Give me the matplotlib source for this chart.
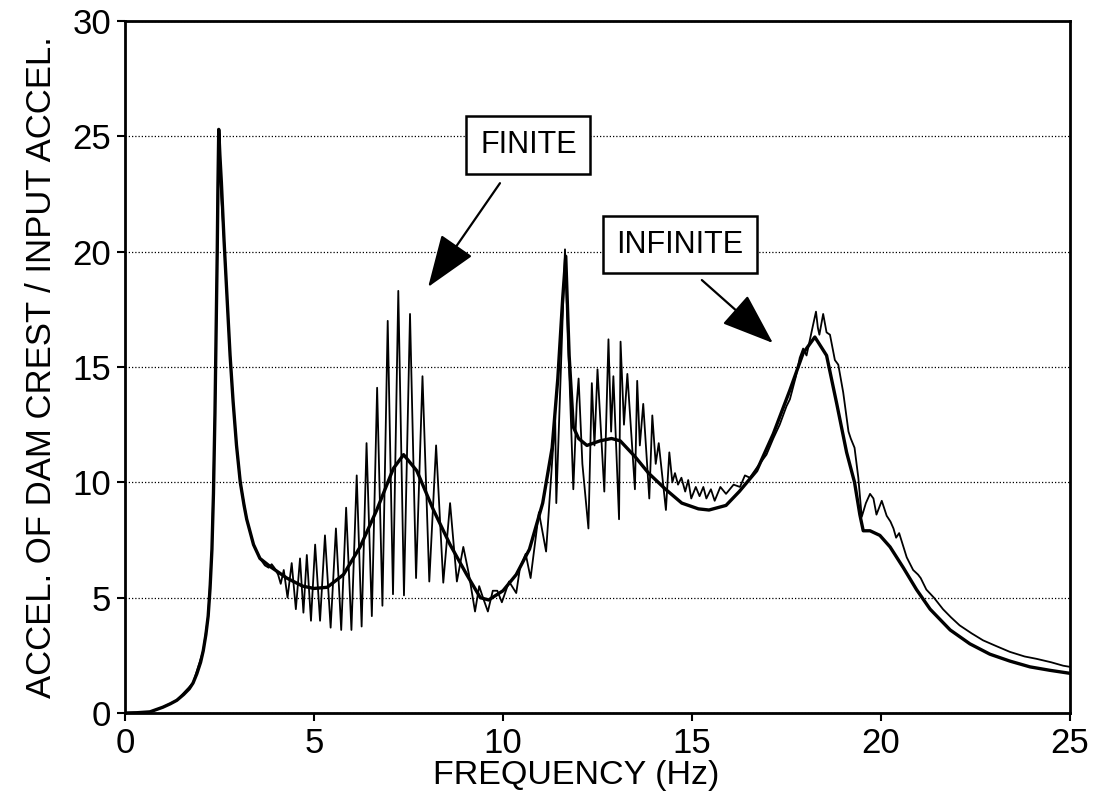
import matplotlib
matplotlib.use('Agg')
import matplotlib.pyplot as plt

plt.rcParams['font.family'] = ['Liberation Sans', 'DejaVu Sans']

# infinite reservoir response (smooth, heavy line)
inf_freq = [0, 0.3, 0.66, 1.0, 1.2, 1.37, 1.55, 1.7, 1.8, 1.9, 2.0, 2.07, 2.14, 2.2,
            2.25, 2.3, 2.34, 2.38, 2.41, 2.44, 2.46, 2.48, 2.51, 2.55, 2.62, 2.7,
            2.78, 2.86, 2.95, 3.05, 3.15, 3.22, 3.4, 3.57, 3.84, 4.28, 4.7, 5.0,
            5.35, 5.78, 6.22, 6.66, 7.1, 7.37, 7.72, 8.16, 8.6, 9.04, 9.4, 9.62,
            10.0, 10.35, 10.7, 11.05, 11.3, 11.45, 11.58, 11.66, 11.75, 11.86, 12.0,
            12.22, 12.57, 12.87, 13.1, 13.5, 13.85, 14.3, 14.73, 15.17, 15.45, 15.9,
            16.25, 16.71, 17.15, 17.59, 17.94, 18.25, 18.56, 18.83, 19.09, 19.3,
            19.44, 19.53, 19.71, 19.97, 20.24, 20.59, 20.94, 21.3, 21.83, 22.35,
            22.88, 23.41, 23.94, 24.47, 25.0]
inf_accel = [0, 0.01, 0.05, 0.25, 0.4, 0.55, 0.8, 1.05, 1.3, 1.7, 2.2, 2.7, 3.4, 4.2,
             5.4, 7.1, 9.5, 13, 16.5, 20, 23, 25.3, 24.2, 23, 20.5, 18,
             15.5, 13.5, 11.6, 10.0, 9.0, 8.4, 7.3, 6.7, 6.35, 5.85, 5.5, 5.4,
             5.45, 6.0, 7.2, 8.8, 10.6, 11.2, 10.5, 8.8, 7.3, 6.0, 5.0, 4.9,
             5.3, 6.0, 7.1, 9.1, 11.5, 14.5, 18.0, 19.8, 15.5, 12.4, 11.9,
             11.6, 11.8, 11.9, 11.8, 11.1, 10.4, 9.7, 9.1, 8.85, 8.8, 9.0,
             9.6, 10.5, 12.1, 14.0, 15.6, 16.3, 15.5, 13.4, 11.3, 10.0,
             8.6, 7.9, 7.9, 7.7, 7.2, 6.3, 5.35, 4.5, 3.6, 3.0,
             2.55, 2.25, 2.0, 1.85, 1.72]

# finite reservoir response (oscillating, light line)
fin_freq = [0, 0.66, 1.0, 1.37, 1.8, 2.07, 2.2, 2.3, 2.38, 2.44, 2.47, 2.5, 2.53, 2.62,
            2.7, 2.78, 2.86, 2.95, 3.05, 3.22, 3.4, 3.57, 3.7, 3.8, 3.88, 3.95, 4.05,
            4.12, 4.2, 4.3, 4.41, 4.52, 4.63, 4.72, 4.81, 4.92, 5.03, 5.16, 5.29,
            5.44, 5.58, 5.72, 5.85, 5.99, 6.13, 6.26, 6.39, 6.53, 6.67, 6.81, 6.95,
            7.09, 7.23, 7.38, 7.54, 7.7, 7.87, 8.05, 8.23, 8.42, 8.6, 8.78, 8.95,
            9.1, 9.26, 9.37, 9.47, 9.6, 9.73, 9.85, 9.97, 10.16, 10.35, 10.45, 10.6,
            10.73, 10.95, 11.14, 11.38, 11.41, 11.64, 11.86, 11.95, 12.0, 12.1,
            12.26, 12.35, 12.42, 12.5, 12.68, 12.79, 12.86, 12.92, 13.07, 13.11,
            13.2, 13.29, 13.49, 13.55, 13.62, 13.71, 13.87, 13.95, 14.04, 14.12,
            14.31, 14.4, 14.48, 14.55, 14.63, 14.72, 14.82, 14.9, 14.98, 15.1,
            15.2, 15.3, 15.38, 15.5, 15.6, 15.75, 15.9, 16.1, 16.27, 16.4, 16.53,
            16.7, 16.97, 17.15, 17.32, 17.5, 17.59, 17.75, 17.85, 17.94, 18.03,
            18.12, 18.2, 18.28, 18.33, 18.37, 18.47, 18.56, 18.65, 18.72, 18.78,
            18.87, 19.0, 19.14, 19.2, 19.3, 19.4, 19.49, 19.6, 19.71, 19.8, 19.88,
            20.02, 20.15, 20.25, 20.33, 20.4, 20.48, 20.68, 20.85, 20.98, 21.05,
            21.2, 21.4, 21.64, 21.85, 22.08, 22.4, 22.7, 23.05, 23.41, 23.8, 24.11,
            24.5, 24.82, 25.0]
fin_accel = [0, 0.05, 0.25, 0.55, 1.3, 2.7, 4.2, 7.1, 13, 20, 25.3, 23.5, 22.8, 20.5,
             18, 15.5, 13.5, 11.6, 10.0, 8.4, 7.3, 6.7, 6.4, 6.3, 6.45, 6.3, 6.0,
             5.6, 6.2, 5.0, 6.5, 4.5, 6.7, 4.35, 6.85, 4.0, 7.3, 4.0, 7.7,
             3.7, 8.0, 3.6, 8.9, 3.6, 10.3, 3.75, 11.7, 4.2, 14.1, 4.65, 17.0,
             5.15, 18.3, 5.1, 17.3, 5.85, 14.6, 5.7, 11.6, 5.65, 9.1, 5.7, 7.2,
             6.0, 4.4, 5.5, 5.0, 4.4, 5.3, 5.3, 4.8, 5.7, 5.2, 6.3, 6.9,
             5.85, 8.7, 7.0, 12.85, 9.1, 20.1, 9.7, 13.4, 14.5, 10.8,
             8.0, 14.3, 11.6, 14.9, 9.6, 16.2, 12.2, 14.6, 8.4, 16.1,
             12.5, 14.7, 9.7, 14.4, 11.6, 13.4, 9.3, 12.9, 10.8, 11.7,
             8.8, 11.3, 10.0, 10.4, 9.9, 10.2, 9.6, 10.1, 9.3, 9.8,
             9.4, 9.8, 9.3, 9.7, 9.2, 9.8, 9.5, 9.9, 9.8, 10.3, 10.2,
             10.6, 11.2, 11.9, 12.5, 13.3, 13.6, 14.6, 15.4, 15.8, 15.5,
             16.2, 16.8, 17.4, 16.7, 16.4, 17.3, 16.5, 16.4, 15.8, 15.3,
             15.1, 13.9, 12.2, 11.9, 11.5, 10.2, 8.5, 9.1, 9.5, 9.3, 8.6,
             9.2, 8.55, 8.3, 8.0, 7.6, 7.8, 6.75, 6.2, 6.0, 5.85,
             5.35, 5.0, 4.5, 4.15, 3.8, 3.45, 3.15, 2.9, 2.65, 2.45, 2.35,
             2.2, 2.05, 2.0]

xticks = [0, 5, 10, 15, 20, 25]
yticks = [0, 5, 10, 15, 20, 25, 30]

fig = plt.figure(figsize=(10.96, 7.98), dpi=100)
ax = fig.add_axes([125 / 1096, 1 - 713 / 798, 945 / 1096, 692 / 798])

ax.plot(fin_freq, fin_accel, color='k', lw=1.3, zorder=3)
ax.plot(inf_freq, inf_accel, color='k', lw=2.4, zorder=4)

ax.set_xlim(0, 25)
ax.set_ylim(0, 30)
ax.set_xticks(xticks)
ax.set_yticks(yticks)
ax.tick_params(direction='out', length=6, width=1.5, labelsize=25, pad=4)
ax.grid(axis='y', color='k', linestyle=(0, (1, 1.6)), lw=0.9)
for sp in ax.spines.values():
    sp.set_linewidth(2.0)

ax.set_xlabel('FREQUENCY (Hz)', fontsize=24.5, labelpad=2)
ax.xaxis.set_label_coords(0.477, -0.068)
ax.set_ylabel('ACCEL. OF DAM CREST / INPUT ACCEL.', fontsize=25, labelpad=10)

box = dict(boxstyle='square,pad=0.45', fc='white', ec='k', lw=1.8)
ax.text(10.67, 24.62, 'FINITE', fontsize=22, ha='center', va='center', bbox=box, zorder=6)
ax.text(14.68, 20.31, 'INFINITE', fontsize=22, ha='center', va='center', bbox=box, zorder=6)

arrow = dict(arrowstyle='-|>,head_length=1.5,head_width=0.55', color='k', lw=1.6,
             mutation_scale=22, shrinkA=0, shrinkB=0)
ax.annotate('', xy=(8.02, 18.47), xytext=(9.92, 22.97), arrowprops=arrow, zorder=6)
ax.annotate('', xy=(17.14, 16.04), xytext=(15.26, 18.77), arrowprops=arrow, zorder=6)

fig.savefig('out.png', dpi=100)
